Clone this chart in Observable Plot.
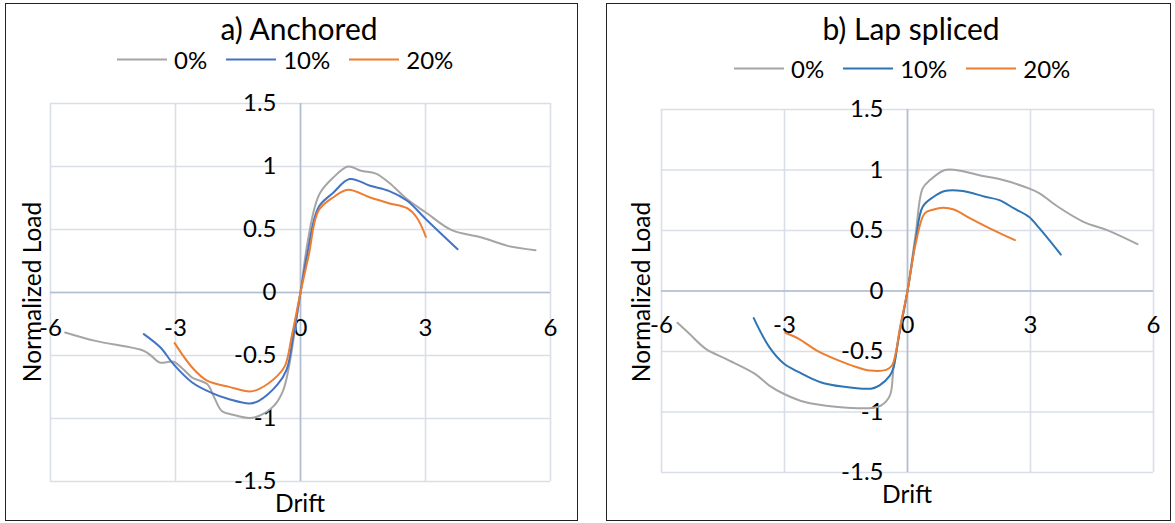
<!DOCTYPE html>
<html>
<head>
<meta charset="utf-8">
<script src="https://cdn.jsdelivr.net/npm/d3@7"></script>
<script src="https://cdn.jsdelivr.net/npm/@observablehq/plot@0.6"></script>
<style>
  html, body { margin: 0; padding: 0; background: #fff; }
  body { width: 1175px; height: 523px; position: relative; overflow: hidden; font-family: Lato, "Open Sans", sans-serif; color: #000; }
  .frame { position: absolute; border: 1.5px solid #222; box-sizing: border-box; }
  .abs { position: absolute; white-space: nowrap; }
  .title { font-size: 30px; transform: translate(-50%, -50%); }
  .ylab { font-size: 24.5px; transform: translate(-50%, -50%) rotate(-90deg); }
  .xlab { font-size: 24.5px; transform: translate(-50%, -50%); }
  .legend { display: flex; align-items: center; font-size: 24px; transform: translateY(-50%); }
  .legend .sw { width: 50px; height: 2px; margin-right: 7px; }
  .legend .lt { margin-right: 19px; }
  .chart { position: absolute; top: 0; }
</style>
</head>
<body>
<script>
// ---------- data ----------
const seriesNames = ["0%", "10%", "20%"];
const xTicks = [-6, -3, 0, 3, 6];
const yTicks = [-1.5, -1, -0.5, 0, 0.5, 1, 1.5];
const yTickLabels = ["-1.5", "-1", "-0.5", "0", "0.5", "1", "1.5"];

// a) Anchored
const anchored0 = [[-5.65,-0.317],[-4.92,-0.384],[-3.76,-0.463],[-3.58,-0.503],[-3.38,-0.556],[-3.05,-0.55],[-2.78,-0.62],[-2.6,-0.675],[-2.24,-0.727],[-2.07,-0.833],[-1.89,-0.94],[-1.62,-0.97],[-1.22,-0.997],[-1.0,-0.98],[-0.64,-0.9],[-0.42,-0.78],[-0.28,-0.595],[-0.15,-0.33],[0,0],[0.16,0.38],[0.34,0.675],[0.47,0.79],[0.78,0.91],[1.14,1.0],[1.45,0.966],[1.81,0.944],[2.12,0.873],[2.56,0.74],[3.01,0.635],[3.63,0.495],[4.35,0.437],[4.97,0.37],[5.64,0.336]];
const anchored10 = [[-3.76,-0.33],[-3.36,-0.437],[-3.05,-0.569],[-2.6,-0.714],[-2.15,-0.794],[-1.71,-0.847],[-1.22,-0.881],[-1.0,-0.86],[-0.55,-0.73],[-0.33,-0.61],[-0.18,-0.357],[0,0],[0.16,0.3],[0.43,0.675],[0.78,0.79],[1.18,0.9],[1.67,0.847],[2.12,0.807],[2.56,0.728],[3.01,0.582],[3.77,0.344]];
const anchored20 = [[-3.02,-0.402],[-2.6,-0.595],[-2.24,-0.7],[-1.71,-0.749],[-1.22,-0.786],[-1.0,-0.767],[-0.55,-0.66],[-0.37,-0.58],[-0.2,-0.33],[0,0],[0.2,0.3],[0.43,0.648],[0.78,0.754],[1.14,0.815],[1.67,0.754],[2.12,0.709],[2.56,0.669],[2.79,0.595],[3.01,0.442]];

// b) Lap spliced
const lap0 = [[-5.61,-0.262],[-5.32,-0.354],[-4.92,-0.478],[-4.43,-0.561],[-3.72,-0.685],[-3.37,-0.782],[-3.01,-0.851],[-2.48,-0.92],[-1.76,-0.956],[-0.87,-0.967],[-0.65,-0.948],[-0.43,-0.865],[-0.34,-0.63],[-0.2,-0.354],[0,0],[0.2,0.475],[0.37,0.848],[0.55,0.917],[0.91,1.0],[1.18,1.0],[1.8,0.953],[2.24,0.925],[2.96,0.848],[3.22,0.807],[3.67,0.696],[4.29,0.572],[4.87,0.503],[5.61,0.387]];
const lap10 = [[-3.75,-0.224],[-3.37,-0.464],[-3.01,-0.602],[-2.65,-0.671],[-2.12,-0.754],[-1.59,-0.79],[-0.89,-0.807],[-0.69,-0.782],[-0.43,-0.699],[-0.34,-0.63],[-0.2,-0.354],[0,0],[0.2,0.42],[0.37,0.696],[0.64,0.779],[0.91,0.826],[1.35,0.826],[1.89,0.779],[2.24,0.751],[2.6,0.682],[2.96,0.613],[3.22,0.517],[3.74,0.301]];
const lap20 = [[-2.98,-0.345],[-2.65,-0.395],[-2.21,-0.492],[-1.67,-0.575],[-1.23,-0.63],[-0.92,-0.657],[-0.52,-0.652],[-0.38,-0.616],[-0.29,-0.519],[-0.18,-0.298],[0,0],[0.2,0.392],[0.42,0.641],[0.64,0.674],[0.86,0.688],[1.13,0.674],[1.53,0.6],[1.98,0.522],[2.62,0.42]];

const colorsA = ["#A5A5A5", "#4472C4", "#ED7D31"];
const colorsB = ["#A5A5A5", "#2E75B6", "#ED7D31"];

// ---------- layout helpers ----------
function el(cls, text, style) {
  const d = document.createElement("div");
  d.className = cls;
  if (text != null) d.textContent = text;
  Object.assign(d.style, style);
  document.body.appendChild(d);
  return d;
}

function legend(left, top, colors) {
  const lg = el("abs legend", null, {left: left + "px", top: top + "px"});
  seriesNames.forEach((n, i) => {
    const sw = document.createElement("span");
    sw.className = "sw"; sw.style.background = colors[i];
    const t = document.createElement("span");
    t.className = "lt"; t.textContent = n;
    lg.appendChild(sw); lg.appendChild(t);
  });
}

function panel(cfg) {
  const rows = [];
  cfg.series.forEach((s, i) => s.forEach(([x, y]) => rows.push({x, y, s: seriesNames[i]})));
  const chart = Plot.plot({
    width: cfg.width, height: 523,
    marginLeft: cfg.ml, marginRight: cfg.mr, marginTop: cfg.mt, marginBottom: cfg.mb,
    x: {domain: [-6, 6], axis: null},
    y: {domain: [-1.5, 1.5], axis: null},
    color: {domain: seriesNames, range: cfg.colors},
    style: {fontFamily: "Lato, 'Open Sans', sans-serif", fontSize: "24px", color: "#000", background: "transparent", overflow: "visible"},
    marks: [
      Plot.ruleX(xTicks, {stroke: "#D9DEE8", strokeWidth: 1.6, strokeOpacity: 1}),
      Plot.ruleY(yTicks, {stroke: "#D9DEE8", strokeWidth: 1.6, strokeOpacity: 1}),
      Plot.ruleX([0], {stroke: "#B0BDD3", strokeWidth: 1.6, strokeOpacity: 1}),
      Plot.ruleY([0], {stroke: "#B0BDD3", strokeWidth: 1.6, strokeOpacity: 1}),
      Plot.text(yTicks.map((v, i) => ({v, t: yTickLabels[i]})), {x: () => 0, y: "v", text: "t", textAnchor: "end", dx: -24, fill: "#000", fontSize: 24}),
      Plot.text(xTicks, {x: d => d, y: () => 0, text: d => String(d), dy: cfg.xdy, fill: "#000", fontSize: 24}),
      Plot.line(rows, {x: "x", y: "y", z: "s", stroke: "s", strokeWidth: 2, curve: "catmull-rom"})
    ]
  });
  chart.classList.add("chart");
  chart.style.left = cfg.left + "px";
  document.body.appendChild(chart);
}

// frames
el("frame", null, {left: "5px", top: "3px", width: "573px", height: "518px"});
el("frame", null, {left: "606px", top: "3px", width: "565px", height: "518px"});

panel({series: [anchored0, anchored10, anchored20], colors: colorsA, left: 0, width: 580, ml: 50, mr: 30, mt: 103, mb: 42, xdy: 36});
panel({series: [lap0, lap10, lap20], colors: colorsB, left: 600, width: 575, ml: 61, mr: 22, mt: 109, mb: 51, xdy: 34});

// titles, legends, axis titles
el("abs title", "a) Anchored", {left: "299px", top: "28px"});
el("abs title", "b) Lap spliced", {left: "911px", top: "28px"});
legend(117, 59, colorsA);
legend(734, 68, colorsB);
el("abs ylab", "Normalized Load", {left: "31px", top: "292px"});
el("abs ylab", "Normalized Load", {left: "640px", top: "292px"});
el("abs xlab", "Drift", {left: "300px", top: "502px"});
el("abs xlab", "Drift", {left: "907px", top: "493px"});
</script>
</body>
</html>
